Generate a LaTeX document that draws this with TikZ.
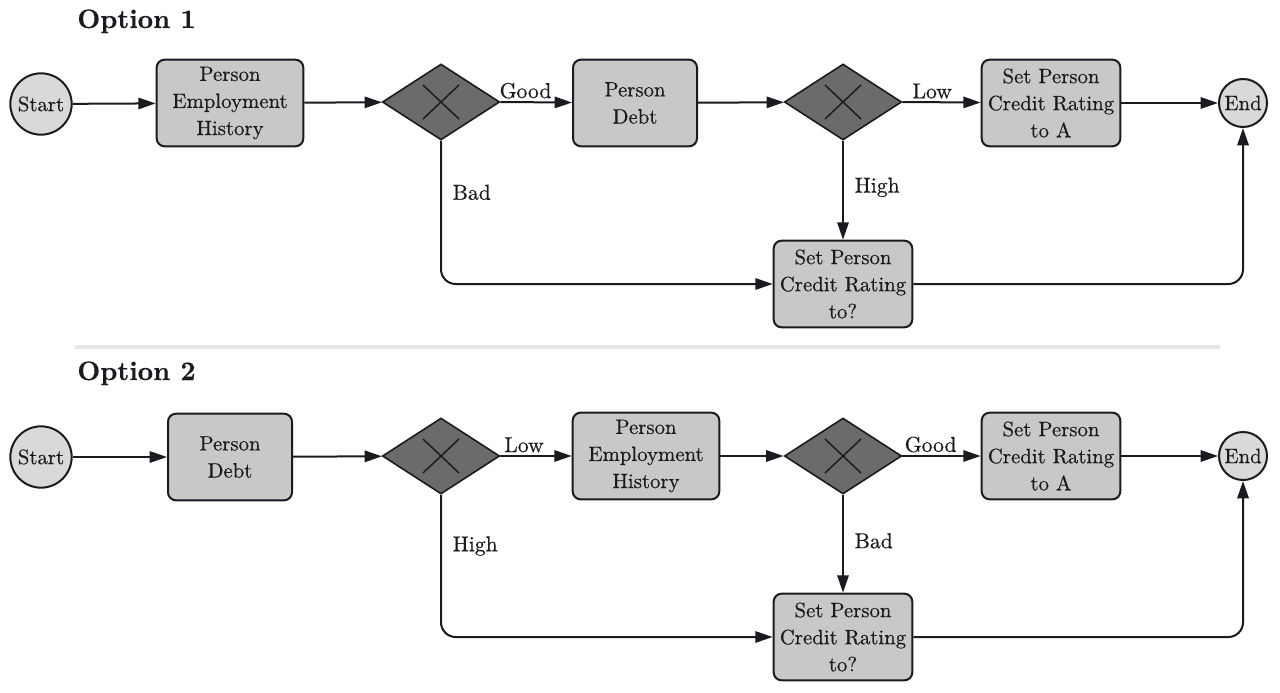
\documentclass[tikz,border=0pt]{standalone}
\usepackage{fontspec}
\setmainfont{lmroman10-regular.otf}[BoldFont=lmroman10-bold.otf, FakeBold=0.4]
\usetikzlibrary{shapes.geometric,arrows.meta}
\definecolor{ink}{HTML}{1A1A20}
\definecolor{taskfill}{HTML}{C8C8C8}
\definecolor{eventfill}{HTML}{D9D9D9}
\definecolor{gatefill}{HTML}{6B6B6B}
\definecolor{rulegray}{HTML}{E6E6E6}
\begin{document}
\begin{tikzpicture}[x=0.75pt,y=-0.75pt,
  txt/.style={font=\fontsize{15.6}{20.3}\selectfont, text=ink},
  title/.style={font=\fontsize{20}{24}\selectfont\bfseries, text=ink, anchor=base west, inner sep=0pt},
  task/.style={txt, draw=ink, line width=1.5pt, fill=taskfill, rounded corners=6pt,
    minimum height=65pt, align=center, inner sep=0pt},
  wide/.style={task, minimum width=110pt},
  narrow/.style={task, minimum width=93pt},
  rating/.style={task, minimum width=104pt},
  startev/.style={txt, circle, draw=ink, line width=1.5pt, fill=eventfill, minimum size=46pt, inner sep=0pt},
  endev/.style={txt, circle, draw=ink, line width=1.5pt, fill=eventfill, minimum size=36pt, inner sep=0pt},
  gate/.style={diamond, draw=ink, line width=1.2pt, fill=gatefill, minimum width=88pt, minimum height=57pt, inner sep=0pt},
  cross/.style={draw=ink, line width=1.1pt},
  flow/.style={draw=ink, line width=1.5pt, -{Triangle[length=13pt,width=8.5pt]}},
  turnflow/.style={flow, rounded corners=11pt},
  lab/.style={txt, font=\fontsize{16.2}{20.3}\selectfont, inner sep=2pt}
]
\useasboundingbox (0,0) rectangle (1280,692);

% ---------- Option 1 ----------
\node[title] (t1) at (77,28) {Option 1};
\node[startev] (s1) at (41,104) {Start};
\node[wide] (a1) at (230,103) {Person\\Employment\\History};
\node[gate] (g1) at (441,102) {};
\node[narrow] (b1) at (635,103) {Person\\Debt};
\node[gate] (h1) at (843,102) {};
\node[rating] (c1) at (1051,103) {Set Person\\Credit Rating\\to A};
\node[endev] (e1) at (1243,103) {End};
\node[rating] (q1) at (843,284) {Set Person\\Credit Rating\\to?};

\foreach \g in {g1,h1}{
  \draw[cross] ([shift={(-18,-17)}]\g.center) -- ([shift={(18,17)}]\g.center);
  \draw[cross] ([shift={(-18,17)}]\g.center) -- ([shift={(18,-17)}]\g.center);
}

\draw[flow] (s1) -- (a1);
\draw[flow] (a1) -- (g1);
\draw[flow] (g1.east) -- node[lab, pos=0.35, above] {Good} (b1);
\draw[flow] (b1) -- (h1);
\draw[flow] (h1.east) -- node[lab, pos=0.38, above] {Low} (c1);
\draw[flow] (c1) -- (e1);
\draw[turnflow] (g1.south) |- node[lab, pos=0.18, right=6pt] {Bad} (q1.west);
\draw[flow] (h1.south) -- node[lab, pos=0.47, right=6pt] {High} (q1.north);
\draw[turnflow] (q1.east) -| (e1.south);

% separator
\draw[rulegray, line width=3pt] (75,347) -- (1220,347);

% ---------- Option 2 ----------
\node[title] (t2) at (77,380) {Option 2};
\node[startev] (s2) at (41,457) {Start};
\node[narrow] (a2) at (230,457) {Person\\Debt};
\node[gate] (g2) at (441,456) {};
\node[wide] (b2) at (646,456) {Person\\Employment\\History};
\node[gate] (h2) at (843,456) {};
\node[rating] (c2) at (1051,456) {Set Person\\Credit Rating\\to A};
\node[endev] (e2) at (1243,456) {End};
\node[rating] (q2) at (843,637) {Set Person\\Credit Rating\\to?};

\foreach \g in {g2,h2}{
  \draw[cross] ([shift={(-18,-17)}]\g.center) -- ([shift={(18,17)}]\g.center);
  \draw[cross] ([shift={(-18,17)}]\g.center) -- ([shift={(18,-17)}]\g.center);
}

\draw[flow] (s2) -- (a2);
\draw[flow] (a2) -- (g2);
\draw[flow] (g2.east) -- node[lab, pos=0.33, above] {Low} (b2);
\draw[flow] (b2) -- (h2);
\draw[flow] (h2.east) -- node[lab, pos=0.36, above] {Good} (c2);
\draw[flow] (c2) -- (e2);
\draw[turnflow] (g2.south) |- node[lab, pos=0.18, right=6pt] {High} (q2.west);
\draw[flow] (h2.south) -- node[lab, pos=0.47, right=6pt] {Bad} (q2.north);
\draw[turnflow] (q2.east) -| (e2.south);
\end{tikzpicture}
\end{document}
